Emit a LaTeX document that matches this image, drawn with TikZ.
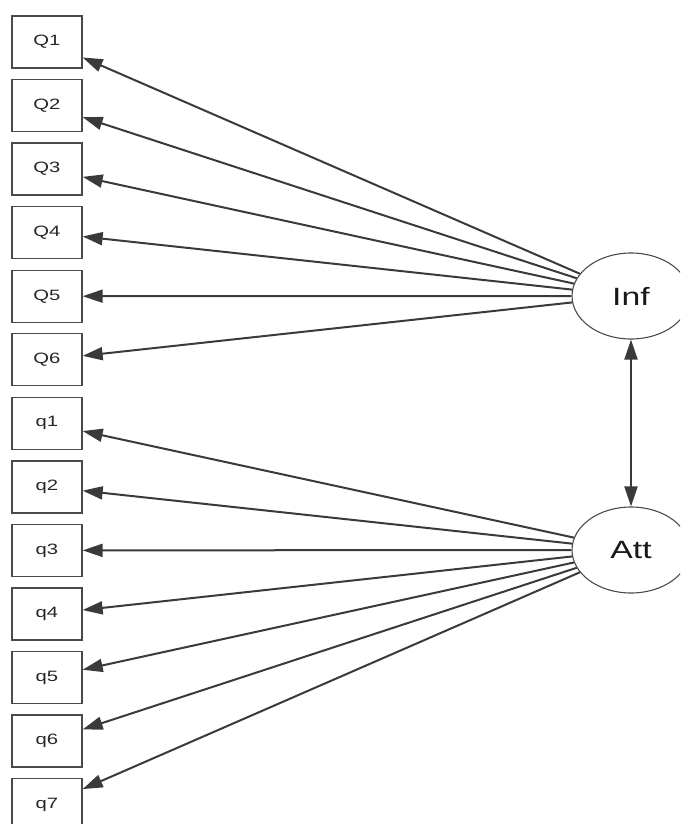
\documentclass[tikz,border=0pt]{standalone}
\usepackage{fontspec}
\setmainfont{Liberation Sans}[FakeStretch=1.35]
\usetikzlibrary{arrows.meta,shapes.geometric}
\definecolor{edge}{HTML}{3A3A3A}
\definecolor{frame}{HTML}{4A4A4A}
\tikzset{
  obs/.style={draw=frame, line width=1.3pt, minimum width=70pt, minimum height=52pt, inner sep=0pt, text=black!85, font=\fontsize{15}{17}\selectfont},
  lat/.style={draw=frame, line width=1.1pt, ellipse, minimum width=118pt, minimum height=86pt, inner sep=0pt, text=black!90, font=\fontsize{25}{28}\selectfont},
  load/.style={draw=edge, line width=2pt, -{Triangle[length=20pt,width=13pt]}},
  cov/.style={draw=edge, line width=2pt, {Triangle[length=20pt,width=13pt]}-{Triangle[length=20pt,width=13pt]}}
}
\begin{document}
\begin{tikzpicture}[x=1pt,y=-1pt]
\useasboundingbox (0,0) rectangle (680,824);
\clip (0,0) rectangle (680,824);
\foreach \n/\i in {Q1/0,Q2/1,Q3/2,Q4/3,Q5/4,Q6/5,q1/6,q2/7,q3/8,q4/9,q5/10,q6/11,q7/12}{
  \node[obs] (\n) at (47,{42+\i*63.55}) {\n};
}
\node[lat] (Inf) at (631,296) {Inf};
\node[lat] (Att) at (631,550) {Att};
\foreach \n in {Q1,Q2,Q3,Q4,Q5,Q6}{\draw[load] (Inf) -- (\n);}
\foreach \n in {q1,q2,q3,q4,q5,q6,q7}{\draw[load] (Att) -- (\n);}
\draw[cov] (Inf) -- (Att);
\end{tikzpicture}
\end{document}
